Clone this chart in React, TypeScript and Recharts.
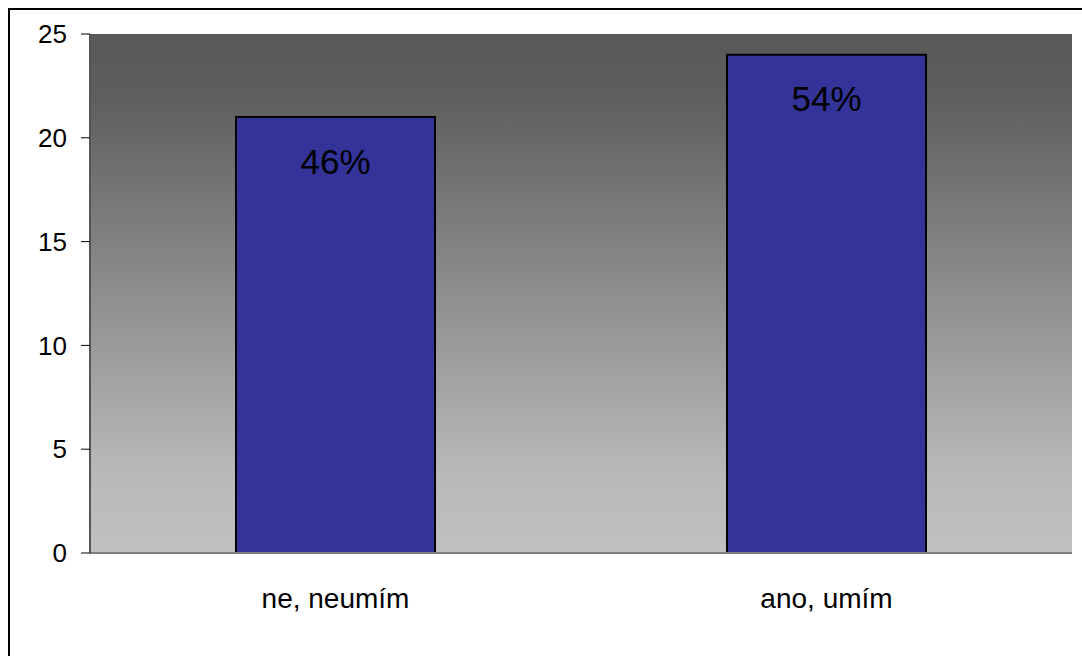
import React from "react"
import {
    BarChart,
    Bar,
    XAxis,
    YAxis,
    CartesianGrid,
    LabelList,
} from "recharts"

const categories = ["ne, neumím", "ano, umím"]
const counts = [21, 24]
const shareLabels = ["46%", "54%"]
const yTicks = [0, 5, 10, 15, 20, 25]

const rows = categories.map((name, i) => ({
    name,
    count: counts[i],
    share: shareLabels[i],
}))

const FONT = "'Liberation Sans', Arial, sans-serif"

// percentage printed inside the top of each bar
function ShareLabel(props: any) {
    const { x, y, width, value } = props
    return (
        <text
            x={x + width / 2}
            y={y + 44}
            textAnchor="middle"
            dominantBaseline="central"
            fontFamily={FONT}
            fontSize={35}
            fill="#000"
        >
            {value}
        </text>
    )
}

export default function App() {
    return (
        <div
            style={{
                position: "absolute",
                left: 0,
                top: 0,
                width: 1082,
                height: 656,
                overflow: "hidden",
                background: "#fff",
                fontFamily: FONT,
            }}
        >
            <div
                style={{
                    position: "absolute",
                    left: 8,
                    top: 8,
                    width: 1200,
                    height: 800,
                    border: "2px solid #000",
                }}
            />
            <div style={{ position: "absolute", left: 0, top: 0 }}>
                <BarChart
                    width={1082}
                    height={656}
                    data={rows}
                    margin={{ top: 34, right: 10, bottom: 0, left: 0 }}
                >
                    <defs>
                        <linearGradient id="plotFill" x1="0" y1="0" x2="0" y2="1">
                            <stop offset="0%" stopColor="#595959" />
                            <stop offset="12%" stopColor="#5e5e5e" />
                            <stop offset="50%" stopColor="#8e8e8e" />
                            <stop offset="85%" stopColor="#b9b9b9" />
                            <stop offset="100%" stopColor="#c0c0c0" />
                        </linearGradient>
                    </defs>
                    <CartesianGrid horizontal={false} vertical={false} fill="url(#plotFill)" />
                    <XAxis
                        dataKey="name"
                        height={103}
                        tickSize={0}
                        tickMargin={35}
                        tickLine={false}
                        axisLine={{ stroke: "#808080", strokeWidth: 2 }}
                        tick={{ fill: "#000", fontSize: 28, fontFamily: FONT }}
                    />
                    <XAxis
                        xAxisId="top"
                        dataKey="name"
                        orientation="top"
                        height={0}
                        tick={false}
                        tickLine={false}
                        axisLine={{ stroke: "#8a8a8a", strokeWidth: 2 }}
                    />
                    <YAxis
                        width={90}
                        domain={[0, 25]}
                        ticks={yTicks}
                        interval={0}
                        tickSize={9}
                        tickMargin={14}
                        tickLine={{ stroke: "#000", strokeWidth: 1 }}
                        axisLine={{ stroke: "#555", strokeWidth: 2 }}
                        tick={{ fill: "#000", fontSize: 26, fontFamily: FONT }}
                    />
                    <YAxis
                        yAxisId="right"
                        orientation="right"
                        width={0}
                        domain={[0, 25]}
                        tick={false}
                        tickLine={false}
                        axisLine={{ stroke: "#8a8a8a", strokeWidth: 2 }}
                    />
                    <Bar
                        dataKey="count"
                        fill="#333399"
                        stroke="#000"
                        strokeWidth={2}
                        barSize={199}
                        isAnimationActive={false}
                    >
                        <LabelList dataKey="share" content={<ShareLabel />} />
                    </Bar>
                </BarChart>
            </div>
        </div>
    )
}
